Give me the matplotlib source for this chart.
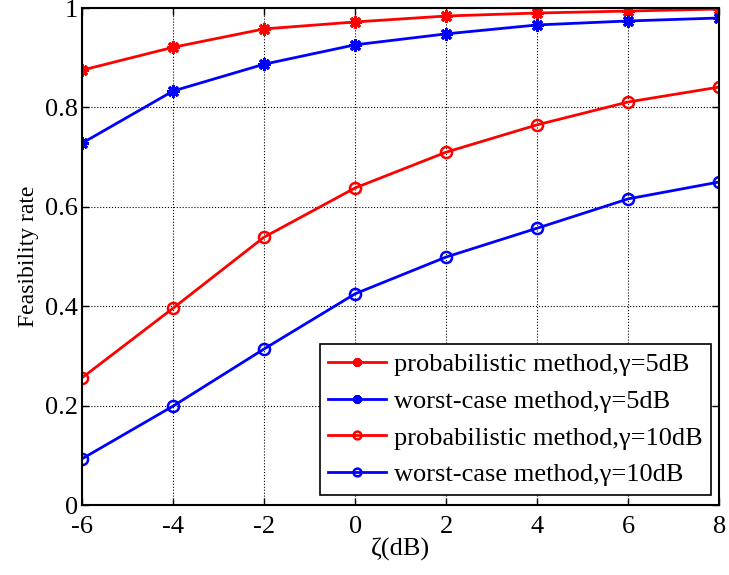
import matplotlib
matplotlib.use("Agg")
import matplotlib.pyplot as plt

plt.rcParams["font.family"] = ["Liberation Serif", "DejaVu Serif"]

zeta = [-6, -4, -2, 0, 2, 4, 6, 8]
prob_5db = [0.875, 0.921, 0.958, 0.972, 0.984, 0.990, 0.994, 0.998]
worst_5db = [0.728, 0.833, 0.887, 0.926, 0.948, 0.966, 0.974, 0.980]
prob_10db = [0.256, 0.396, 0.539, 0.638, 0.710, 0.765, 0.811, 0.841]
worst_10db = [0.093, 0.199, 0.314, 0.425, 0.499, 0.557, 0.616, 0.650]

labels = [
    "probabilistic method,\u03b3=5dB",
    "worst-case method,\u03b3=5dB",
    "probabilistic method,\u03b3=10dB",
    "worst-case method,\u03b3=10dB",
]

fig = plt.figure(figsize=(7.29, 5.75), dpi=100)
ax = fig.add_axes([0.1125, 0.1217, 0.874, 0.8643])

star = (8, 2, 0)
ax.plot(zeta, prob_5db, color="red", lw=2, marker=star, ms=9, mew=2.2, label=labels[0])
ax.plot(zeta, worst_5db, color="blue", lw=2, marker=star, ms=9, mew=2.2, label=labels[1])
ax.plot(zeta, prob_10db, color="red", lw=2, marker="o", ms=8, mfc="none", mew=1.8, label=labels[2])
ax.plot(zeta, worst_10db, color="blue", lw=2, marker="o", ms=8, mfc="none", mew=1.8, label=labels[3])

ax.set_xlim(-6, 8)
ax.set_ylim(0, 1)
ax.set_xticks(zeta)
ax.set_xticklabels(["-6", "-4", "-2", "0", "2", "4", "6", "8"])
ax.set_yticks([0, 0.2, 0.4, 0.6, 0.8, 1])
ax.set_yticklabels(["0", "0.2", "0.4", "0.6", "0.8", "1"])
ax.grid(True, color="black", linestyle=":", linewidth=0.8)
ax.tick_params(direction="in", top=True, right=True, labelsize=19, length=5, width=1)
ax.tick_params(axis="x", pad=8)
ax.tick_params(axis="y", pad=3)
for s in ax.spines.values():
    s.set_linewidth(1.5)

ax.set_xlabel("\u03b6(dB)", fontsize=19, labelpad=0)
ax.set_ylabel("Feasibility rate", fontsize=17, labelpad=4)

leg = ax.legend(loc="lower right", bbox_to_anchor=(0.996, 0.01), fontsize=19,
                fancybox=False, framealpha=1, edgecolor="black", markerscale=0.7,
                handlelength=2.2, borderpad=0.32, labelspacing=0.5, handletextpad=0.3,
                borderaxespad=0.2)
leg.get_frame().set_linewidth(1.2)

fig.savefig("out.png", dpi=100)
